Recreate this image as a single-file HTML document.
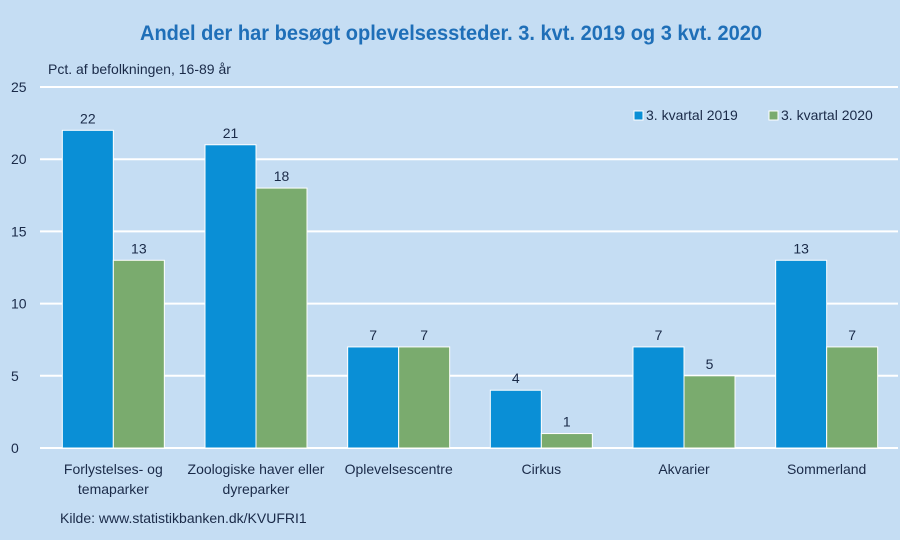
<!DOCTYPE html>
<html><head><meta charset="utf-8"><style>
body{margin:0;background:#c5ddf3}
svg{display:block;font-family:"Liberation Sans",sans-serif}
</style></head><body>
<svg width="900" height="540">
<rect width="900" height="540" fill="#c5ddf3"/>
<text x="140" y="40" textLength="622" lengthAdjust="spacingAndGlyphs" font-size="21" font-weight="bold" fill="#1f6fb8">Andel der har besøgt oplevelsessteder. 3. kvt. 2019 og 3 kvt. 2020</text>
<text x="48" y="74" font-size="14" fill="#1a2a48">Pct. af befolkningen, 16-89 år</text>
<g id="grid"></g><g id="bars"></g><g id="labels"></g>
<g>
<rect x="634" y="111" width="9" height="9" fill="#0a8fd6" stroke="#fff" stroke-width="1"/>
<text x="646" y="120" font-size="14" fill="#1a2a48">3. kvartal 2019</text>
<rect x="769" y="111" width="9" height="9" fill="#7aab6e" stroke="#fff" stroke-width="1"/>
<text x="781" y="120" font-size="14" fill="#1a2a48">3. kvartal 2020</text>
</g>
<text x="60" y="523" font-size="14" fill="#1a2a48">Kilde: www.statistikbanken.dk/KVUFRI1</text>
</svg>
<script>
const categories=[["Forlystelses- og","temaparker"],["Zoologiske haver eller","dyreparker"],["Oplevelsescentre"],["Cirkus"],["Akvarier"],["Sommerland"]];
const values2019=[22,21,7,4,7,13];
const values2020=[13,18,7,1,5,7];
const yTicks=[0,5,10,15,20,25];
const NS="http://www.w3.org/2000/svg";
const x0=42,x1=898,y0=448,yTop=87,yMax=25;
const y=v=>y0-(y0-yTop)*v/yMax;
const cw=(x1-x0)/categories.length;
const cx=i=>x0+cw*(i+0.5);
const bw=51;
function mk(tag,attrs,parent){const e=document.createElementNS(NS,tag);for(const k in attrs)e.setAttribute(k,attrs[k]);document.getElementById(parent).appendChild(e);return e;}
yTicks.forEach(t=>{
  const l=mk('line',{x1:40,x2:x1,y1:y(t),y2:y(t),stroke:'#fff','stroke-width':2},'grid');
  
  
  const tx=mk('text',{x:11,y:y(t)+5,'font-size':14,fill:'#1a2a48'},'grid');
  tx.textContent=t;
  
  
});
categories.forEach((c,i)=>{
  [[values2019,'#0a8fd6',-bw,'2019'],[values2020,'#7aab6e',0,'2020']].forEach(([arr,col,off,nm])=>{
    const v=arr[i];
    const r=mk('rect',{x:cx(i)+off,y:y(v),width:bw,height:y0-y(v),fill:col,stroke:'#fff','stroke-width':1},'bars');
    
    
    const t=mk('text',{x:cx(i)+off+bw/2,y:y(v)-7,'text-anchor':'middle','font-size':14,fill:'#1a2a48'},'labels');
    t.textContent=v;
    
    
  });
  c.forEach((ln,j)=>{
    const t=mk('text',{x:cx(i),y:474+j*20,'text-anchor':'middle','font-size':14,fill:'#1a2a48'},'labels');
    t.textContent=ln;
    
    
  });
});
</script>
</body></html>
